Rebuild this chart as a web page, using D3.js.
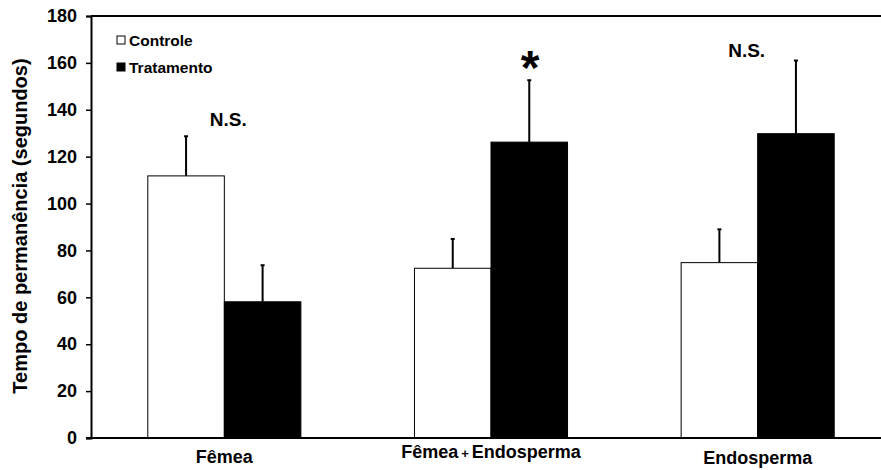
<!DOCTYPE html>
<html>
  <head>
    <meta charset="utf-8">
    <title>Tempo de permanência</title>
    <script src="https://cdn.jsdelivr.net/npm/d3@7"></script>
    <style>
      body { margin: 0; background: #fff; }
      text { font-family: "Liberation Sans", Arial, sans-serif; font-weight: bold; fill: #000; }
    </style>
  </head>
  <body>
    <script>

      // Data
      var categories = ["Fêmea", "Fêmea + Endosperma", "Endosperma"];
      var series     = ["Controle", "Tratamento"];
      var controle   = [111.8, 72.4, 74.8];
      var tratamento = [58.1, 126.2, 129.8];
      var errControle   = [16.9, 12.5, 14.2];
      var errTratamento = [15.6, 26.4, 31.2];
      var marks      = ["N.S.", "*", "N.S."];
      var yTicks     = [0, 20, 40, 60, 80, 100, 120, 140, 160, 180];

      var width = 881, height = 470;
      var margin = {top: 16, right: -10, bottom: 32, left: 91};

      var svg = d3.select("body").append("svg")
        .attr("width", width)
        .attr("height", height);

      var x = d3.scaleBand()
        .domain(categories)
        .range([margin.left, width - margin.right])
        .paddingInner(0.426)
        .paddingOuter(0.213);

      var xs = d3.scaleBand()
        .domain(series)
        .range([0, x.bandwidth()]);

      var y = d3.scaleLinear()
        .domain([0, 180])
        .range([height - margin.bottom, margin.top]);

      var fills = {Controle: "#fff", Tratamento: "#000"};

      // rows: one per bar
      var rows = [];
      categories.forEach(function(c, i) {
        rows.push({cat: c, s: "Controle", v: controle[i], e: errControle[i]});
        rows.push({cat: c, s: "Tratamento", v: tratamento[i], e: errTratamento[i]});
      });

      // top frame line
      svg.append("line")
        .attr("x1", margin.left).attr("x2", width)
        .attr("y1", y(180)).attr("y2", y(180))
        .attr("stroke", "#000").attr("stroke-width", 2);

      // error bars (drawn first, bars cover the bottom)
      var eb = svg.selectAll("g.err").data(rows).enter().append("g").attr("class", "err");
      eb.append("line")
        .attr("x1", function(d) { return x(d.cat) + xs(d.s) + xs.bandwidth() / 2; })
        .attr("x2", function(d) { return x(d.cat) + xs(d.s) + xs.bandwidth() / 2; })
        .attr("y1", function(d) { return y(d.v); })
        .attr("y2", function(d) { return y(d.v + d.e); })
        .attr("stroke", "#000").attr("stroke-width", 2);
      eb.append("rect")
        .attr("x", function(d) { return x(d.cat) + xs(d.s) + xs.bandwidth() / 2 - 2; })
        .attr("y", function(d) { return y(d.v + d.e) - 1; })
        .attr("width", 4).attr("height", 2)
        .attr("fill", "#000");

      // bars
      svg.selectAll("rect.bar").data(rows).enter().append("rect")
        .attr("class", "bar")
        .attr("x", function(d) { return x(d.cat) + xs(d.s); })
        .attr("y", function(d) { return y(d.v); })
        .attr("width", xs.bandwidth())
        .attr("height", function(d) { return y(0) - y(d.v); })
        .attr("fill", function(d) { return fills[d.s]; })
        .attr("stroke", "#000")
        .attr("stroke-width", 1);

      // y axis
      var yAxis = svg.append("g")
        .attr("transform", "translate(" + margin.left + ",0)")
        .call(d3.axisLeft(y).tickValues(yTicks).tickSize(5).tickPadding(9));
      yAxis.select(".domain").attr("stroke-width", 2);
      yAxis.selectAll(".tick text").style("font-size", "18px").attr("fill", "#000");
      yAxis.selectAll(".tick line").attr("stroke-width", 1.5);

      // x axis line
      svg.append("line")
        .attr("x1", margin.left - 5).attr("x2", width)
        .attr("y1", y(0)).attr("y2", y(0))
        .attr("stroke", "#000").attr("stroke-width", 2);

      // category labels
      var labY = [463, 458, 464];
      categories.forEach(function(c, i) {
        var t = svg.append("text")
          .attr("x", x(c) + x.bandwidth() / 2)
          .attr("y", labY[i])
          .attr("text-anchor", "middle")
          .style("font-size", "18px");
        if (c.indexOf("+") >= 0) {
          var parts = c.split("+");
          t.append("tspan").text(parts[0].trim());
          t.append("tspan").style("font-size", "13px").attr("dx", 3).text("+");
          t.append("tspan").attr("dx", 3).text(parts[1].trim());
        } else {
          t.text(c);
        }
      });

      // y label
      svg.append("text")
        .attr("transform", "translate(27," + 226 + ") rotate(-90)")
        .attr("text-anchor", "middle")
        .style("font-size", "20px")
        .text("Tempo de permanência (segundos)");

      // significance marks
      var markY = [126, 84, 57];
      var markDx = [4, 39, -11];
      marks.forEach(function(m, i) {
        svg.append("text")
          .attr("x", x(categories[i]) + x.bandwidth() / 2 + markDx[i])
          .attr("y", markY[i])
          .attr("text-anchor", "middle")
          .style("font-size", m === "*" ? "48px" : "19px")
          .text(m);
      });

      // legend
      var leg = svg.selectAll("g.leg").data(series).enter().append("g")
        .attr("class", "leg")
        .attr("transform", function(d, i) { return "translate(117," + (36 + i * 27) + ")"; });
      leg.append("rect")
        .attr("width", 8).attr("height", 8)
        .attr("fill", function(d) { return fills[d]; })
        .attr("stroke", "#000").attr("stroke-width", 1);
      leg.append("text")
        .attr("x", 12).attr("y", 10)
        .style("font-size", "15.5px")
        .text(function(d) { return d; });

    </script>
  </body>
</html>
